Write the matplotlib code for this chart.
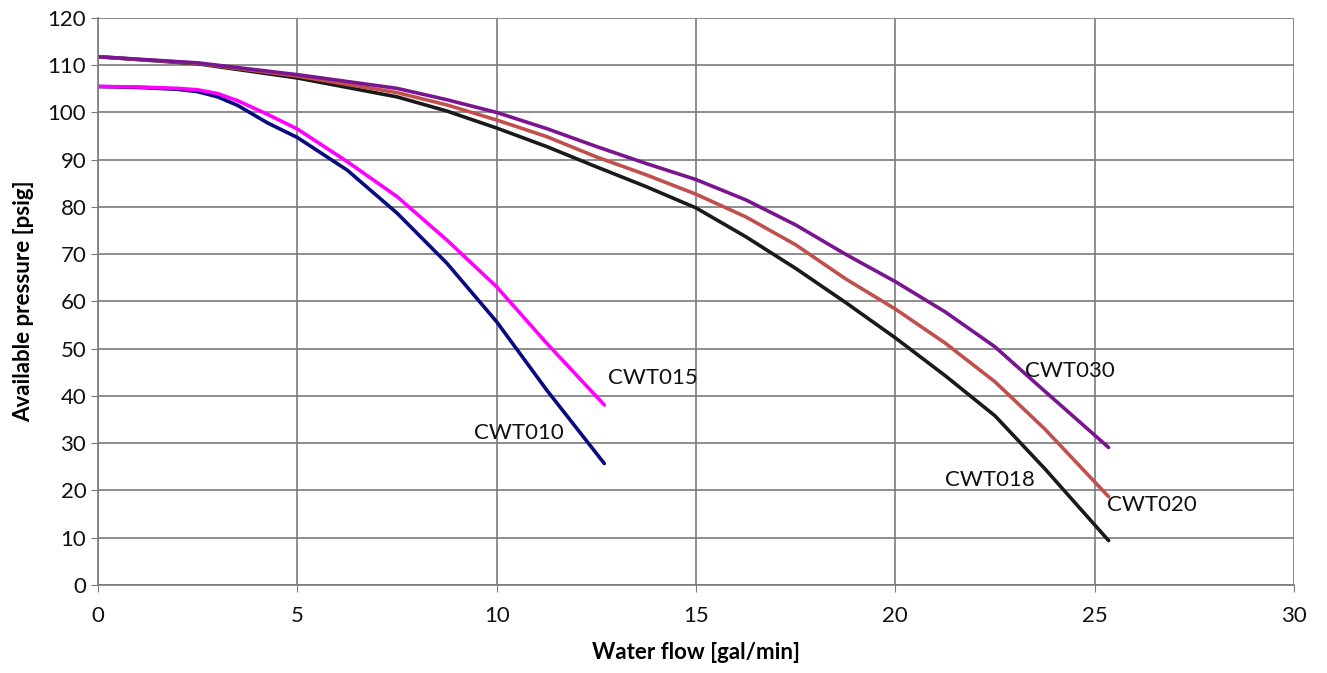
import matplotlib
matplotlib.use("agg")
import matplotlib.pyplot as plt

plt.rcParams['font.family'] = ['Lato', 'DejaVu Sans']

# small pumps
flow_small = [0, 1, 2, 2.5, 3, 3.5, 4.25, 5, 6.25, 7.5, 8.75, 10, 11.25, 12.7]
cwt010 = [105.5, 105.3, 104.9, 104.4, 103.3, 101.5, 97.8, 94.7, 87.8, 78.7, 68.1, 55.7, 41.3, 25.7]
cwt015 = [105.5, 105.4, 105.1, 104.8, 104.0, 102.5, 99.6, 96.5, 89.6, 82.2, 73.0, 63.1, 51.2, 38.1]

# large pumps
flow_large = [0, 2.5, 5, 7.5, 8.75, 10, 11.25, 12.5, 13.75, 15, 16.25, 17.5,
              18.75, 20, 21.25, 22.5, 23.75, 25.35]
cwt018 = [111.8, 110.3, 107.3, 103.3, 100.3, 96.7, 92.8, 88.5, 84.3, 79.8, 73.7, 67.0,
          59.8, 52.3, 44.3, 35.8, 24.6, 9.4]
cwt020 = [111.8, 110.4, 107.7, 104.2, 101.6, 98.4, 94.9, 90.6, 86.8, 82.7, 77.9, 72.0,
          64.8, 58.4, 51.2, 43.0, 33.0, 18.7]
cwt030 = [111.8, 110.5, 108.0, 105.1, 102.7, 100.0, 96.6, 92.8, 89.2, 85.8, 81.5, 76.2,
          70.0, 64.2, 57.8, 50.4, 41.0, 29.1]

labels = ['CWT010', 'CWT015', 'CWT018', 'CWT020', 'CWT030']
label_pos = [(9.43, 32.2), (12.79, 43.8), (21.24, 22.2), (25.31, 16.9), (23.25, 45.3)]

fig = plt.figure(figsize=(13.27, 6.73), dpi=100)
ax = fig.add_axes([0.0739, 0.1308, 0.9012, 0.8425])

ax.plot(flow_small, cwt010, color='#0a0a80', lw=2.6, solid_capstyle='round', solid_joinstyle='round')
ax.plot(flow_small, cwt015, color='#ff00ff', lw=2.6, solid_capstyle='round', solid_joinstyle='round')
ax.plot(flow_large, cwt018, color='#1a1a1a', lw=2.6, solid_capstyle='round', solid_joinstyle='round')
ax.plot(flow_large, cwt020, color='#c0504d', lw=2.6, solid_capstyle='round', solid_joinstyle='round')
ax.plot(flow_large, cwt030, color='#7a1590', lw=2.6, solid_capstyle='round', solid_joinstyle='round')

for txt, (x, y) in zip(labels, label_pos):
    ax.text(x, y, txt, fontsize=16, va='center', ha='left', color='#111111')

ax.set_xlim(0, 30)
ax.set_ylim(0, 120)
ax.set_xticks(range(0, 31, 5))
ax.set_yticks(range(0, 121, 10))
ax.grid(True, color='#7a7a7a', lw=1.2)
ax.set_axisbelow(True)
for s in ['top', 'right']:
    ax.spines[s].set_visible(False)
for s in ['left', 'bottom']:
    ax.spines[s].set_color('#7a7a7a')
    ax.spines[s].set_linewidth(1.2)
ax.tick_params(colors='#7a7a7a', labelcolor='#111111', labelsize=16, length=5)
ax.tick_params(axis='x', pad=10)
ax.set_xlabel('Water flow [gal/min]', fontsize=16, fontweight='bold', labelpad=12)
ax.set_ylabel('Available pressure [psig]', fontsize=16, fontweight='bold', labelpad=10)

plt.savefig("out.png", dpi=100)
